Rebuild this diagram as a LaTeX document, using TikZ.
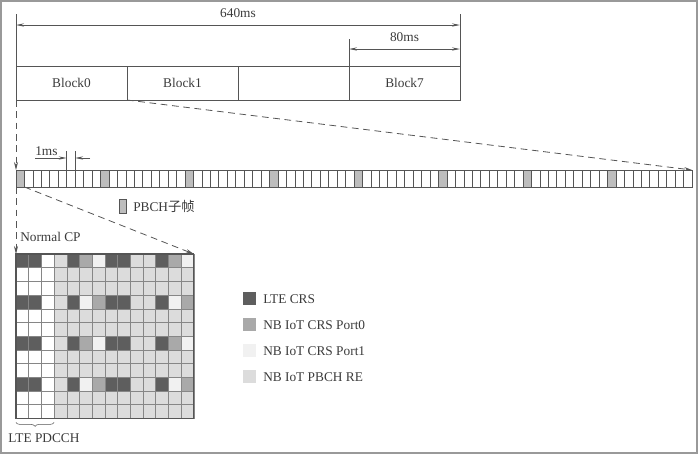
\documentclass[tikz,border=0pt]{standalone}
\usepackage{fontspec}
\setmainfont{Liberation Serif}
\newfontfamily\cjk{Noto Sans CJK SC}
\usetikzlibrary{arrows.meta,decorations.pathreplacing}
\definecolor{linegray}{HTML}{555555}
\definecolor{txtgray}{HTML}{3A3A3A}
\definecolor{ltecrs}{HTML}{5E5E5E}
\definecolor{porta}{HTML}{A9A9A9}
\definecolor{portb}{HTML}{F1F1F1}
\definecolor{pbchre}{HTML}{DCDCDC}
\definecolor{pbchsf}{HTML}{BDBDBD}

\begin{document}
\begin{tikzpicture}[
    x=0.75pt, y=-0.75pt,
    every node/.style={text=txtgray, font=\fontsize{10}{12}\selectfont},
    block/.style={rectangle, draw=linegray, line width=0.6pt, anchor=north west, minimum width=83.25pt, minimum height=25.5pt, inner sep=0pt, outer sep=0pt},
    sfcell/.style={rectangle, draw=linegray, line width=0.5pt, anchor=north west, minimum width=6.3375pt, minimum height=12.75pt, inner sep=0pt, outer sep=0pt},
    recell/.style={rectangle, draw=gray!95, line width=0.45pt, anchor=north west, minimum width=9.525pt, minimum height=10.275pt, inner sep=0pt, outer sep=0pt},
    keybox/.style={rectangle, anchor=north west, minimum size=9.75pt, inner sep=0pt, outer sep=0pt},
    keytext/.style={anchor=west, inner sep=0pt},
    tickline/.style={linegray, line width=0.6pt},
    dimline/.style={linegray, line width=0.6pt, {Stealth[length=6pt,width=2.4pt]}-{Stealth[length=6pt,width=2.4pt]}},
    onearrow/.style={linegray, line width=0.6pt, -{Stealth[length=6pt,width=2.4pt]}},
    zoomline/.style={linegray, line width=0.6pt, dash pattern=on 5pt off 3.5pt, -{Stealth[length=6pt,width=3pt]}}
]
\useasboundingbox (0,0) rectangle (698,454);
\draw[gray!80, line width=0.9pt] (1,1) rectangle (697,453);

\node[block] (blk0) at (16,66) {Block0};
\node[block] (blk1) at (127,66) {Block1};
\node[block] (blk2) at (238,66) {};
\node[block] (blk7) at (349,66) {Block7};

\coordinate (l640) at (16,14);
\coordinate (r640) at (460,14);
\coordinate (l80) at (349,39);
\coordinate (a640) at (16,25);
\coordinate (b640) at (460,25);
\coordinate (a80) at (349,49);
\coordinate (b80) at (460,49);
\draw[tickline] (l640) -- (blk0.north west);
\draw[tickline] (r640) -- (blk7.north east);
\draw[tickline] (l80) -- (blk7.north west);
\draw[dimline] (a640) -- node[above=2pt] (t640) {640ms} (b640);
\draw[dimline] (a80) -- node[above=2pt] (t80) {80ms} (b80);

\foreach \i in {0,...,79}{
  \pgfmathtruncatemacro\sfm{mod(\i,10)}
  \ifnum\sfm=0 \def\sffill{pbchsf}\else\def\sffill{white}\fi
  \node[sfcell, fill=\sffill] (c\i) at ({16+8.45*\i},170) {};
}

\draw[tickline] (c6.north west) -- ++(0,-19) coordinate (m1);
\draw[tickline] (c6.north east) -- ++(0,-19) coordinate (m2);
\coordinate (p1) at (35,158);
\coordinate (p2) at (90,158);
\draw[onearrow] (p1) -- (c6.north west |- p1);
\draw[onearrow] (p2) -- (c6.north east |- p2);
\node[keytext] (t1ms) at (35,151) {1ms};

\node[keybox, draw=linegray, fill=pbchsf, minimum width=5.5pt, minimum height=10.5pt] (pbchkey) at (119,199) {};
\node[keytext] (pbchtxt) at (133,206) {PBCH{\cjk 子帧}};

\foreach \r in {0,...,11}{
  \foreach \c in {0,...,13}{
    \pgfmathtruncatemacro\rowm{mod(\r,3)}
    \pgfmathtruncatemacro\rowh{mod(\r,6)}
    \pgfmathtruncatemacro\colm{mod(\c,7)}
    \ifnum\c<3 \def\recol{white}\else\def\recol{pbchre}\fi
    \ifnum\rowm=0
      \ifnum\colm=0 \def\recol{ltecrs}\fi
      \ifnum\colm=1 \def\recol{ltecrs}\fi
      \ifnum\colm=4 \def\recol{ltecrs}\fi
      \ifnum\colm=5 \ifnum\rowh=0 \def\recol{porta}\else\def\recol{portb}\fi\fi
      \ifnum\colm=6 \ifnum\rowh=0 \def\recol{portb}\else\def\recol{porta}\fi\fi
    \fi
    \node[recell, fill=\recol] (g\r-\c) at ({16+12.7*\c},{254+13.7*\r}) {};
  }
}
\draw[linegray, line width=0.9pt] (g0-0.north west) rectangle (g11-13.south east);

\draw[zoomline] (blk0.south west) -- (c0.north west);
\draw[zoomline] (blk0.south east) -- (c79.north east);
\draw[zoomline] (c0.south west) -- (g0-0.north west);
\draw[zoomline] (c0.south east) -- (g0-13.north east);

\node[keytext] (ncp) at (20,237) {Normal CP};

\draw[linegray, decorate, decoration={brace, amplitude=3pt, mirror}] ([yshift=-3pt]g11-0.south west) -- ([yshift=-3pt]g11-2.south east);
\node (pdcch) at (44,438) {LTE PDCCH};

\foreach \k/\t [count=\n from 0] in {ltecrs/LTE CRS, porta/NB IoT CRS Port0, portb/NB IoT CRS Port1, pbchre/NB IoT PBCH RE}{
  \node[keybox, fill=\k] (key\n) at (243,{292+26*\n}) {};
  \node[keytext] (keyt\n) at (263,{299+26*\n}) {\t};
}
\end{tikzpicture}
\end{document}
